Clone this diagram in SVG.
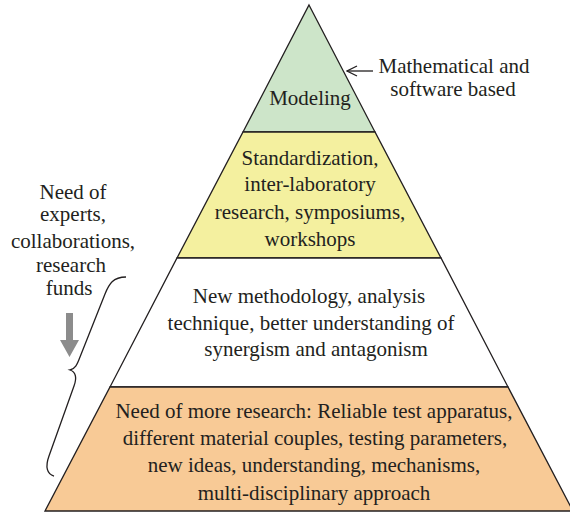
<svg xmlns="http://www.w3.org/2000/svg" width="570" height="514" viewBox="0 0 570 514">
<defs>
<style>
.t{font-family:"Liberation Serif","Times New Roman",serif;font-size:21px;fill:#231f20;text-anchor:middle}
.lvl{stroke:#231f20;stroke-width:1.3;stroke-linejoin:miter}
</style>
<marker id="open" markerWidth="12" markerHeight="12" refX="11" refY="6" orient="auto" markerUnits="userSpaceOnUse">
<path d="M1,1 L11,6 L1,11" fill="none" stroke="#231f20" stroke-width="1.3"/>
</marker>
</defs>
<rect width="570" height="514" fill="#ffffff"/>
<g id="level-modeling">
<polygon class="lvl" points="309,5 375,132 243,132" fill="#cde5c9"/>
<text class="t" x="310" y="105">Modeling</text>
</g>
<g id="level-standardization">
<polygon class="lvl" points="243,132 375,132 441,258 177,258" fill="#f4f09f"/>
<text class="t" x="310" y="165">Standardization,</text>
<text class="t" x="310" y="191">inter-laboratory</text>
<text class="t" x="310" y="219">research, symposiums,</text>
<text class="t" x="310" y="246">workshops</text>
</g>
<g id="level-methodology">
<polygon class="lvl" points="177,258 441,258 508,387 110,387" fill="#ffffff"/>
<text class="t" x="309" y="303">New methodology, analysis</text>
<text class="t" x="311" y="330">technique, better understanding of</text>
<text class="t" x="316" y="356">synergism and antagonism</text>
</g>
<g id="level-research">
<polygon class="lvl" points="110,387 508,387 573,511 45,511" fill="#f8ca96"/>
<text class="t" x="314" y="418">Need of more research: Reliable test apparatus,</text>
<text class="t" x="315" y="445">different material couples, testing parameters,</text>
<text class="t" x="314" y="472">new ideas, understanding, mechanisms,</text>
<text class="t" x="314" y="500">multi-disciplinary approach</text>
</g>
<g id="note-math">
<text class="t" x="454" y="73">Mathematical and</text>
<text class="t" x="453" y="96">software based</text>
</g>
<g id="note-needs">
<text class="t" x="73" y="199">Need of</text>
<text class="t" x="73" y="221">experts,</text>
<text class="t" x="73" y="248">collaborations,</text>
<text class="t" x="71" y="272">research</text>
<text class="t" x="69" y="295">funds</text>
</g>
<g id="connectors">
<line x1="373" y1="71" x2="347" y2="71" stroke="#231f20" stroke-width="1.3" marker-end="url(#open)"/>
<path d="M126,277 C113,277 109,284 105,294 L80,357 C77,365 75,369 70,370 C76,372 77,378 74,386 L49,456 C45,467 47,474 54,476" fill="none" stroke="#231f20" stroke-width="1.3"/>
<polygon points="66,313 73,313 73,340 79,340 69.5,357 60,340 66,340" fill="#8c8c8c"/>
</g>
</svg>
